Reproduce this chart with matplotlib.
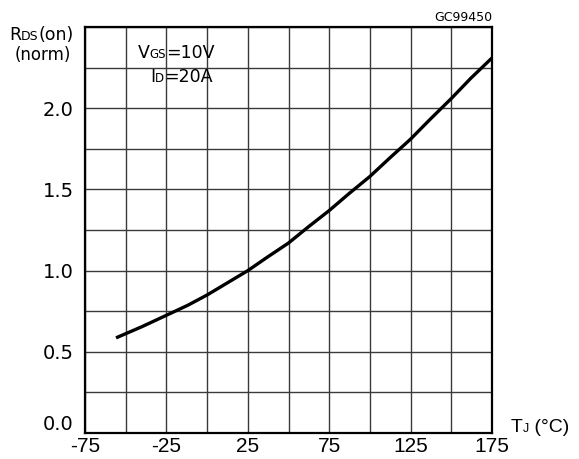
import matplotlib
matplotlib.use("Agg")
import matplotlib.pyplot as plt
import numpy as np
from matplotlib.transforms import ScaledTranslation, offset_copy

# values
temp_c = [-55, -40, -25, -12, 0, 12, 25, 37, 50, 62, 75, 87, 100, 112, 125, 137, 150, 162, 175]
rds_norm = [0.59, 0.655, 0.725, 0.786, 0.85, 0.922, 1.0, 1.083, 1.17, 1.268, 1.37, 1.473,
            1.58, 1.692, 1.81, 1.932, 2.06, 2.185, 2.31]

x_ticks = [-75, -25, 25, 75, 125, 175]
y_ticks = [0.0, 0.5, 1.0, 1.5, 2.0]

plt.rcParams["font.family"] = ["DejaVu Sans"]
plt.rcParams["axes.unicode_minus"] = False

fig = plt.figure(figsize=(5.79, 4.59), dpi=100)
ax = fig.add_axes([0.1468, 0.0566, 0.703, 0.8845])


def draw_parts(x, y, parts, family="DejaVu Sans", ha="left"):
    """Write text pieces one after another on a shared baseline (small caps style subscripts)."""
    renderer = fig.canvas.get_renderer()
    widths = []
    for s, size in parts:
        t = fig.text(0, 0, s, fontsize=size, family=family)
        widths.append(t.get_window_extent(renderer).width)
        t.remove()
    dx = -sum(widths) if ha == "right" else 0.0
    for (s, size), w in zip(parts, widths):
        tr = offset_copy(fig.transFigure, fig=fig, x=dx, y=0, units="dots")
        fig.text(x, y, s, fontsize=size, family=family, va="baseline", transform=tr)
        dx += w


ax.set_xlim(-75, 175)
ax.set_ylim(0, 2.5)
ax.set_xticks(np.arange(-75, 176, 25), minor=True)
ax.set_yticks(np.arange(0, 2.51, 0.25), minor=True)
ax.set_xticks(x_ticks)
ax.set_yticks(y_ticks)
ax.set_yticklabels([f"{v:.1f}" for v in y_ticks])
ax.grid(True, which="both", color="#3a3a3a", lw=1.0)
ax.tick_params(which="both", length=0)
ax.tick_params(axis="x", labelsize=15, pad=3)
ax.tick_params(axis="y", labelsize=14, pad=8)
for lab in ax.get_xticklabels():
    lab.set_family("Liberation Sans")
# the 0.0 label sits a little above the bottom frame
ax.get_yticklabels()[0].set_transform(
    ax.get_yticklabels()[0].get_transform() + ScaledTranslation(0, 0.11, fig.dpi_scale_trans))
for s in ax.spines.values():
    s.set_linewidth(1.6)
    s.set_color("black")

ax.plot(temp_c, rds_norm, color="black", lw=2.4)

draw_parts(9 / 579, 1 - 39.5 / 459, [("R", 12.5), ("DS", 9), ("(on)", 12.5)])
draw_parts(15 / 579, 1 - 60 / 459, [("(norm)", 12)])
draw_parts(138 / 579, 1 - 58.5 / 459, [("V", 12.5), ("GS", 8.5), ("=10V", 12.5)])
draw_parts(150 / 579, 1 - 82 / 459, [("I", 12.5), ("D", 8.5), ("=20A", 12.5)])
draw_parts(492 / 579, 1 - 20.7 / 459, [("GC99450", 9)], ha="right")
draw_parts(511 / 579, 1 - 432 / 459, [("T", 14), ("J", 9), (" (°C)", 14)], family="Liberation Sans")

fig.savefig("out.png", dpi=100)
